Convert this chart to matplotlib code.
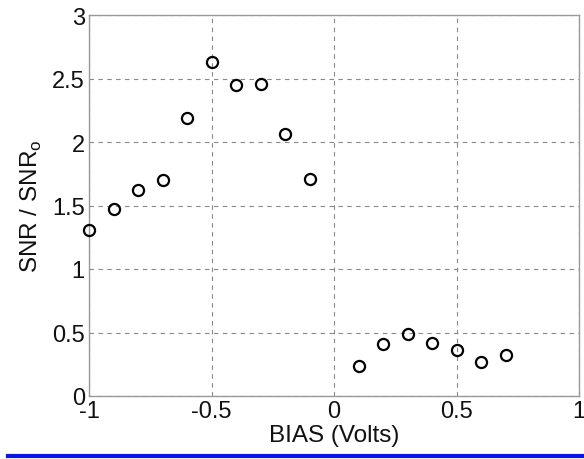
import matplotlib
matplotlib.use('Agg')
import matplotlib.pyplot as plt
from matplotlib.lines import Line2D

plt.rcParams['font.family'] = ['Liberation Sans', 'DejaVu Sans']

# bias voltage and measured SNR ratio
bias = [-1.0, -0.9, -0.8, -0.7, -0.6, -0.5, -0.4, -0.3, -0.2, -0.1,
        0.1, 0.2, 0.3, 0.4, 0.5, 0.6, 0.7]
snr_ratio = [1.31, 1.47, 1.62, 1.70, 2.19, 2.63, 2.45, 2.46, 2.06, 1.71,
             0.24, 0.41, 0.49, 0.42, 0.36, 0.27, 0.32]

x_ticks = [-1, -0.5, 0, 0.5, 1]
x_labels = ['-1', '-0.5', '0', '0.5', '1']
y_ticks = [0, 0.5, 1, 1.5, 2, 2.5, 3]
y_labels = ['0', '0.5', '1', '1.5', '2', '2.5', '3']

fig = plt.figure(figsize=(5.84, 4.6), dpi=100)
ax = fig.add_axes([89/584, 63/460, 490/584, 381/460])

ax.plot(bias, snr_ratio, 'o', markerfacecolor='none', markeredgecolor='black',
        markeredgewidth=1.6, markersize=8, clip_on=False, zorder=3)

ax.set_xlim(-1, 1)
ax.set_ylim(0, 3)
ax.set_xticks(x_ticks)
ax.set_xticklabels(x_labels)
ax.set_yticks(y_ticks)
ax.set_yticklabels(y_labels)
ax.tick_params(length=0, labelsize=17, pad=3, labelcolor='#111111')
ax.grid(True, color='#888888', linestyle=(0, (4, 4)), linewidth=0.8)
for s in ax.spines.values():
    s.set_color('#999999')
    s.set_linewidth(1.0)

ax.set_xlabel('BIAS (Volts)', fontsize=17.5, labelpad=1, color='#111111')
ax.set_ylabel('SNR / SNR$_\\mathregular{o}$', fontsize=17.5, labelpad=6, color='#111111')

# blue rule along the bottom
fig.add_artist(Line2D([8/584, 1], [3/460, 3/460], color='#0a14e6', linewidth=3,
                      transform=fig.transFigure))

fig.savefig('out.png', dpi=100)
